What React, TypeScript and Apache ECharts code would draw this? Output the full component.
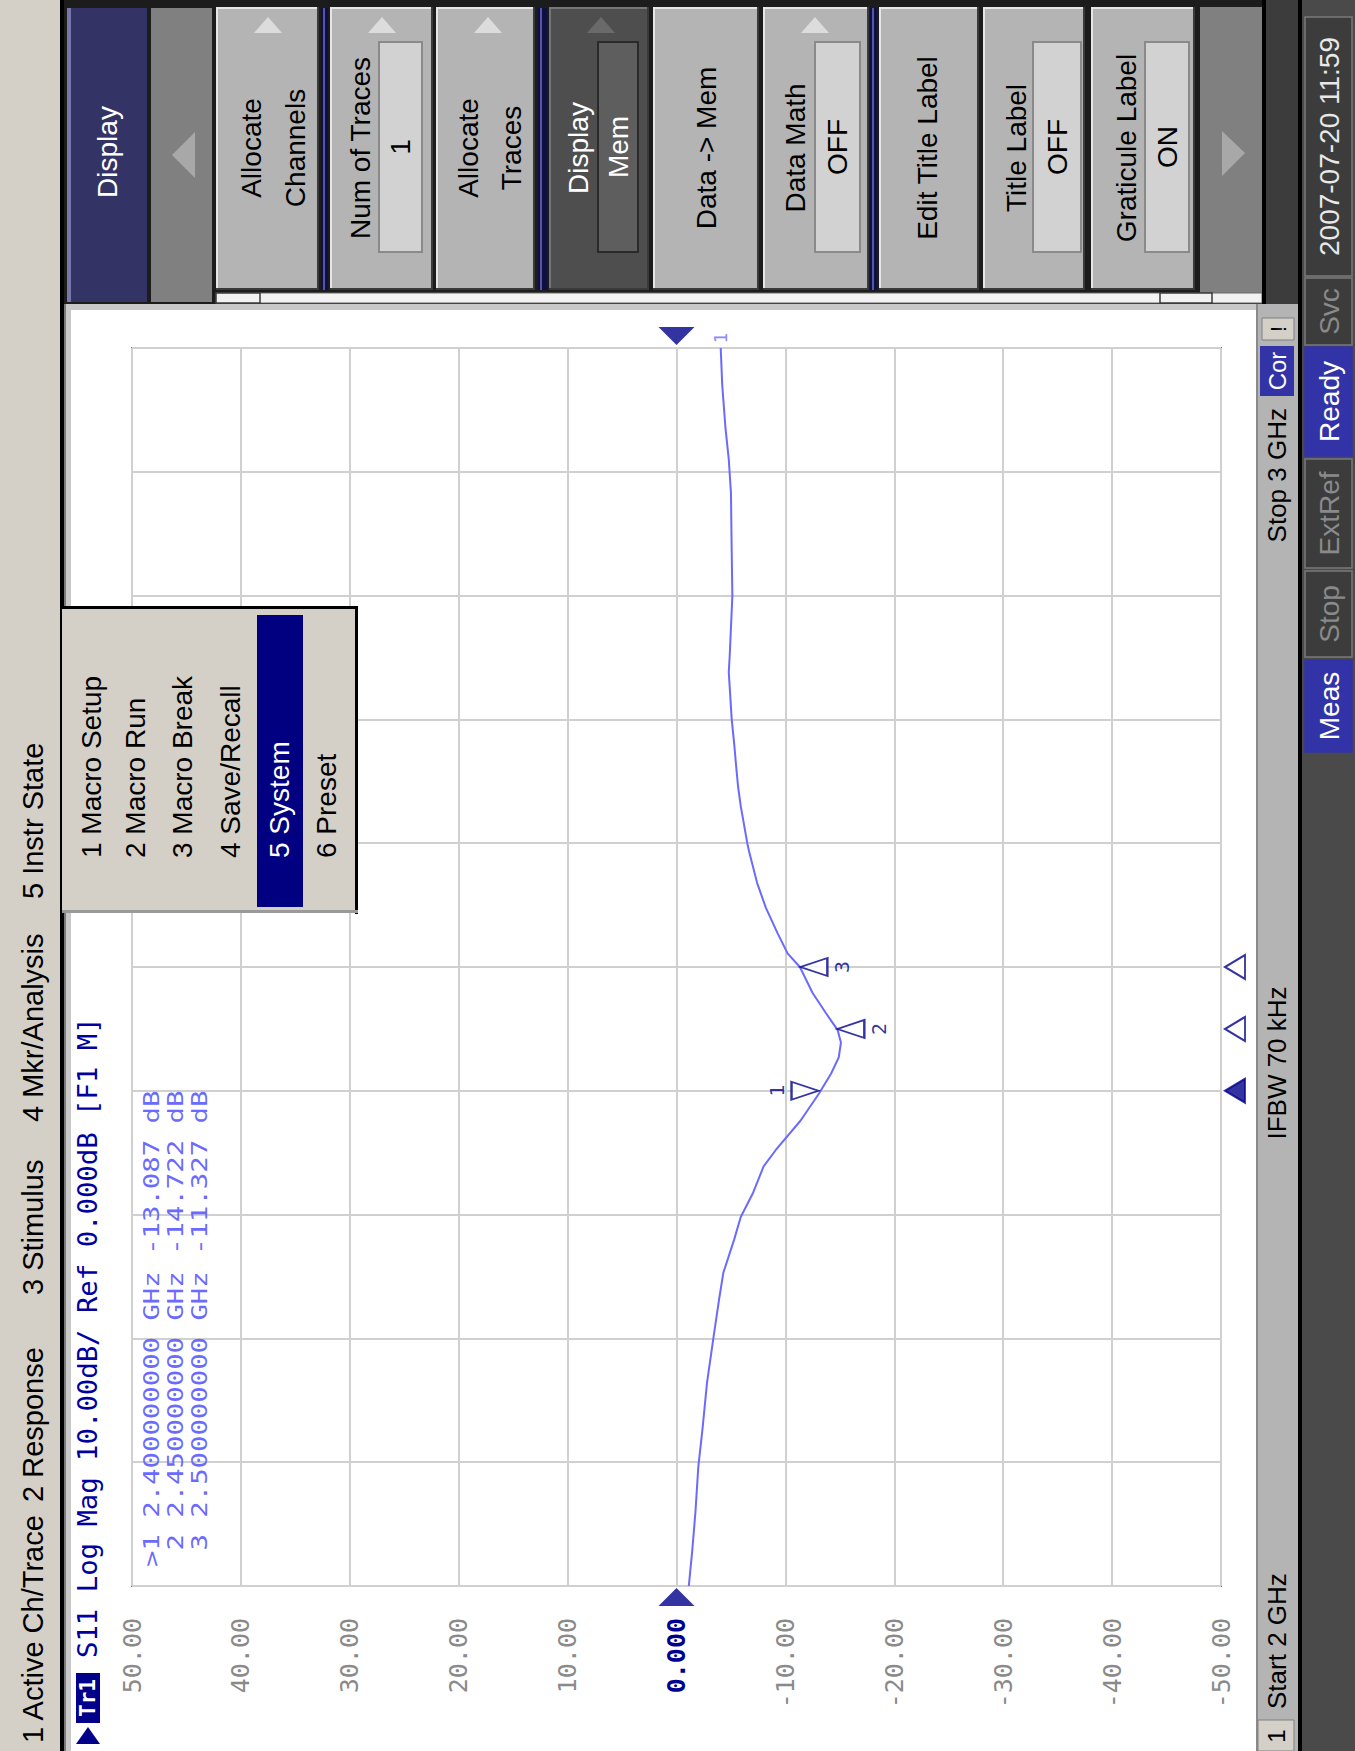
import React, { useEffect, useRef } from "react";
import * as echarts from "echarts";

// ---------- data ----------
const traceFreqGHz = [2.000, 2.029, 2.061, 2.096, 2.128, 2.164, 2.201, 2.231, 2.253, 2.280, 2.298, 2.317, 2.339, 2.352, 2.376, 2.398, 2.414, 2.427, 2.439, 2.449, 2.463, 2.479, 2.500, 2.511, 2.527, 2.548, 2.568, 2.592, 2.600, 2.630, 2.646, 2.660, 2.680, 2.700, 2.738, 2.754, 2.800, 2.835, 2.883, 2.910, 2.935, 2.970, 3.000];
const traceDb = [-1.13, -1.45, -1.75, -2.0, -2.4, -2.8, -3.4, -3.9, -4.3, -5.3, -5.9, -7.0, -8.0, -9.1, -11.4, -13.1, -14.2, -14.9, -15.1, -14.8, -13.7, -12.5, -11.33, -10.2, -9.3, -8.2, -7.4, -6.7, -6.5, -5.9, -5.65, -5.5, -5.3, -5.07, -4.8, -4.9, -5.13, -5.07, -5.0, -4.8, -4.5, -4.2, -4.06];

const markerIds = ["1", "2", "3"];
const markerFreqGHz = [2.4, 2.45, 2.5];
const markerDb = [-13.087, -14.722, -11.327];
const markerSide = [-1, 1, 1]; // -1: symbol left of trace, 1: right

const dbTicks = [50, 40, 30, 20, 10, 0, -10, -20, -30, -40, -50];
const dbTickLabels = ["50.00", "40.00", "30.00", "20.00", "10.00", "0.000", "-10.00", "-20.00", "-30.00", "-40.00", "-50.00"];

const menuItems = ["1 Active Ch/Trace", "2 Response", "3 Stimulus", "4 Mkr/Analysis", "5 Instr State"];
const popupItems = ["1 Macro Setup", "2 Macro Run", "3 Macro Break", "4 Save/Recall", "5 System", "6 Preset"];
const statusItems = ["2007-07-20 11:59", "Svc", "Ready", "ExtRef", "Stop", "Meas"];
const headerText = "S11 Log Mag 10.00dB/ Ref 0.000dB [F1 M]";
const startLabel = "Start 2 GHz";
const stopLabel = "Stop 3 GHz";
const ifbwLabel = "IFBW 70 kHz";

// ---------- styling helpers ----------
const SANS = '"Liberation Sans", Arial, sans-serif';
const MONO = '"DejaVu Sans Mono", monospace';
const Z = 100;

function R(x: number, y: number, w: number, h: number, fill: string, extra: any = {}) {
  return { type: "rect", z: Z, shape: { x, y, width: w, height: h }, style: { fill, ...(extra.style || {}) }, ...extra.el };
}
function P(points: number[][], fill: string, stroke?: string) {
  return { type: "polygon", z: Z + 1, shape: { points }, style: stroke ? { fill, stroke, lineWidth: 2 } : { fill } };
}
function VT(text: string, x: number, y: number, o: any = {}) {
  const align = o.align || "left";
  return {
    type: "text",
    z: Z + 2,
    x,
    y,
    rotation: Math.PI / 2,
    scaleX: o.sx || 1,
    style: {
      text,
      fill: o.color || "#000",
      font: `${o.weight || "normal"} ${o.size || 28}px ${o.family || SANS}`,
      textAlign: align,
      textVerticalAlign: "middle",
      align,
      verticalAlign: "middle",
    },
  };
}

function buildGraphics() {
  const g: any[] = [];
  // left menu bar
  g.push(R(0, 0, 62, 1751, "#d4d0c8"));
  g.push(R(60, 0, 4, 1751, "#000000"));
  const menuStarts = [1743, 1502, 1295, 1122, 899];
  menuItems.forEach((t, i) => g.push(VT(t, 33, menuStarts[i], { size: 29 })));

  // white window bevel
  g.push(R(64, 304, 7, 1447, "#c8c8c8"));
  g.push(R(64, 304, 1192, 6, "#c8c8c8"));
  g.push(R(64, 304, 2, 1447, "#7a7a7a"));

  // softkey panel
  g.push(R(64, 0, 1238, 304, "#1c1c1c"));
  // title
  g.push(R(67, 8, 80, 294, "#333366"));
  g.push(R(67, 8, 4, 294, "#7777aa"));
  g.push(VT("Display", 107, 152, { align: "center", color: "#ffffff", size: 28 }));
  // left scroll
  g.push(R(151, 8, 61, 294, "#808080"));
  g.push(P([[172, 155], [195, 132], [195, 178]], "#a8a8a8"));

  const softkeys = [
    { lines: ["Allocate", "Channels"], x0: 216, x1: 319, tx: [251, 295], arrow: true },
    { lines: ["Num of Traces"], value: "1", x0: 330, x1: 433, tx: [360], box: [379, 422], arrow: true },
    { lines: ["Allocate", "Traces"], x0: 436, x1: 535, tx: [468, 511], arrow: true },
    { lines: ["Display"], value: "Mem", x0: 549, x1: 649, tx: [578], box: [598, 638], arrow: true, dark: true },
    { lines: ["Data -> Mem"], x0: 653, x1: 759, tx: [706] },
    { lines: ["Data Math"], value: "OFF", x0: 763, x1: 869, tx: [795], box: [815, 860], arrow: true },
    { lines: ["Edit Title Label"], x0: 879, x1: 979, tx: [927] },
    { lines: ["Title Label"], value: "OFF", x0: 983, x1: 1085, tx: [1016], box: [1033, 1081] },
    { lines: ["Graticule Label"], value: "ON", x0: 1091, x1: 1195, tx: [1126], box: [1145, 1189] },
  ];
  // group separators (navy)
  [[321, 328], [538, 547], [870, 877]].forEach(([a, b]) => {
    g.push(R(a, 8, b - a, 282, "#101040"));
    g.push(R(a + 2, 8, 2, 282, "#5555aa"));
  });
  softkeys.forEach((k: any) => {
    const w = k.x1 - k.x0;
    const base = k.dark ? "#4e4e4e" : "#b4b4b4";
    const txt = k.dark ? "#ffffff" : "#000000";
    g.push(R(k.x0, 7, w, 283, base));
    g.push(R(k.x0, 7, 2, 283, k.dark ? "#777777" : "#e6e6e6"));
    g.push(R(k.x0, 7, w, 2, k.dark ? "#777777" : "#e6e6e6"));
    g.push(R(k.x1 - 2, 7, 2, 283, "#3a3a3a"));
    g.push(R(k.x0, 288, w, 2, "#3a3a3a"));
    if (k.arrow) {
      const cx = k.x0 + 52;
      g.push(P([[cx, 17], [cx - 14, 33], [cx + 14, 33]], k.dark ? "#6a6a6a" : "#dcdcdc"));
    }
    k.lines.forEach((t: string, i: number) => g.push(VT(t, k.tx[i], 148, { align: "center", color: txt, size: 28 })));
    if (k.box) {
      g.push(R(k.box[0], 42, k.box[1] - k.box[0], 210, k.dark ? "#5e5e5e" : "#d2d2d2", {
        style: { stroke: k.dark ? "#2a2a2a" : "#8a8a8a", lineWidth: 2 },
      }));
      g.push(VT(k.value, (k.box[0] + k.box[1]) / 2, 147, { align: "center", color: txt, size: 28 }));
    }
  });
  // right scroll
  g.push(R(1200, 7, 62, 294, "#808080"));
  g.push(P([[1245, 153], [1222, 131], [1222, 176]], "#a8a8a8"));
  // scrollbar strip below softkeys
  g.push(R(216, 293, 1046, 10, "#f2f2f2", { style: { stroke: "#6a6a6a", lineWidth: 1 } }));
  g.push(R(216, 293, 44, 10, "#f2f2f2", { style: { stroke: "#3a3a3a", lineWidth: 1.5 } }));
  g.push(R(1160, 293, 52, 10, "#f2f2f2", { style: { stroke: "#3a3a3a", lineWidth: 1.5 } }));
  // dark column right of softkeys
  g.push(R(1262, 0, 40, 304, "#3c3c3c"));
  g.push(R(1262, 0, 4, 304, "#000000"));

  // channel status bar
  g.push(R(1256, 304, 44, 1447, "#b4b4b4"));
  g.push(R(1256, 304, 2, 1447, "#8a8a8a"));
  g.push(R(1262, 318, 32, 22, "#d4d0c8", { style: { stroke: "#808080", lineWidth: 1 } }));
  g.push(VT("!", 1278, 329, { align: "center", size: 22 }));
  g.push(R(1260, 346, 34, 50, "#3333a8"));
  g.push(VT("Cor", 1277, 371, { align: "center", color: "#ffffff", size: 24 }));
  g.push(VT(stopLabel, 1277, 408, { align: "right", size: 26 }));
  g.push(VT(ifbwLabel, 1277, 1063, { align: "center", size: 26 }));
  g.push(VT(startLabel, 1277, 1709, { align: "left", size: 26 }));
  g.push(R(1258, 1720, 36, 31, "#d4d0c8", { style: { stroke: "#808080", lineWidth: 1 } }));
  g.push(VT("1", 1276, 1736, { align: "center", size: 24 }));

  // instrument status bar
  g.push(R(1298, 0, 4, 1751, "#000000"));
  g.push(R(1302, 0, 53, 1751, "#4a4a4a"));
  const sy = [[17, 276], [278, 345], [347, 456], [459, 568], [571, 657], [660, 752]];
  const sKind = ["date", "off", "on", "off", "off", "on"];
  statusItems.forEach((t, i) => {
    const [a, b] = sy[i];
    const kind = sKind[i];
    const fill = kind === "on" ? "#3333a8" : "#3c3c3c";
    g.push(R(1305, a, 47, b - a, fill, { style: { stroke: kind === "on" ? "#3333a8" : "#7a7a7a", lineWidth: 1.5 } }));
    const col = kind === "off" ? "#8a8a8a" : kind === "on" ? "#ffffff" : "#e8e8e8";
    g.push(VT(t, 1329, (a + b) / 2, { align: "center", color: col, size: 28 }));
  });

  // header in chart window
  g.push(P([[88, 1727], [76, 1744], [100, 1744]], "#00008b"));
  g.push(R(76, 1673, 24, 50, "#00008b"));
  g.push(VT("Tr1", 88, 1698, { align: "center", color: "#ffffff", size: 21, family: MONO, weight: "bold" }));
  g.push(VT(headerText, 88, 1658, { size: 26, family: MONO, color: "#0000a0", sx: 1.05 }));

  // marker table
  const tableX = [152, 176, 200];
  markerIds.forEach((id, i) => {
    const line = `${i === 0 ? ">" : " "}${id} ${markerFreqGHz[i].toFixed(9)} GHz ${markerDb[i].toFixed(3)} dB`;
    g.push(VT(line, tableX[i], 1567, { size: 21, family: MONO, color: "#6a6aff", sx: 1.3 }));
  });

  // popup menu
  g.push(R(62, 607, 296, 306, "#d4d0c8"));
  g.push(R(62, 606, 296, 3, "#000000"));
  g.push(R(355, 606, 3, 308, "#000000"));
  g.push(R(62, 910, 296, 3, "#9a9a9a"));
  g.push(R(257, 615, 46, 292, "#000080"));
  const popX = [91, 135, 182, 230, 279, 326];
  popupItems.forEach((t, i) =>
    g.push(VT(t, popX[i], 858, { size: 28, color: i === 4 ? "#ffffff" : "#000000" }))
  );
  return g;
}

function buildOption() {
  const trace = traceFreqGHz.map((f, i) => [traceDb[i], f]);
  const markerSymbols = markerIds.map((id, i) => ({
    value: [markerDb[i], markerFreqGHz[i]],
    symbolRotate: markerSide[i] > 0 ? 90 : -90,
    symbolOffset: [14 * markerSide[i], 0],
  }));
  // label offset is in the rotated (text) frame: local +y maps to screen +x
  const markerLabels = markerIds.map((id, i) => ({
    value: [markerDb[i], markerFreqGHz[i]],
    name: id,
    label: { offset: [0, 42 * markerSide[i]] },
  }));
  const edgeMarkers = markerIds.map((id, i) => ({
    value: [-50, markerFreqGHz[i]],
    itemStyle: i === 0 ? { color: "#00008b", borderColor: "#00008b" } : { color: "#ffffff", borderColor: "#00008b" },
  }));
  return {
    animation: false,
    backgroundColor: "#ffffff",
    grid: { left: 132, right: 134, top: 348, bottom: 165, show: true, borderColor: "#7a7a7a", borderWidth: 2, backgroundColor: "transparent" },
    xAxis: {
      type: "value",
      min: -50,
      max: 50,
      interval: 10,
      inverse: true,
      position: "bottom",
      axisLine: { show: false },
      axisTick: { show: false },
      splitLine: { show: true, lineStyle: { color: "#d0d0d0", width: 2 } },
      axisLabel: {
        show: true,
        rotate: 90,
        margin: 32,
        fontFamily: MONO,
        fontSize: 25,
        color: "#8a8a8a",
        formatter: (v: number) => {
          const idx = dbTicks.indexOf(Math.round(v));
          const t = idx >= 0 ? dbTickLabels[idx] : String(v);
          return Math.round(v) === 0 ? `{z|${t}}` : t;
        },
        rich: { z: { color: "#000090", fontWeight: "bold", fontFamily: MONO, fontSize: 25 } },
      },
    },
    yAxis: {
      type: "value",
      min: 2,
      max: 3,
      interval: 0.1,
      axisLine: { show: false },
      axisTick: { show: false },
      axisLabel: { show: false },
      splitLine: { show: true, lineStyle: { color: "#d0d0d0", width: 2 } },
    },
    series: [
      {
        type: "line",
        data: trace,
        showSymbol: false,
        symbol: "none",
        lineStyle: { color: "#6a6aff", width: 2 },
        z: 3,
      },
      {
        type: "scatter",
        data: markerSymbols,
        symbol: "triangle",
        symbolSize: [18, 27],
        itemStyle: { color: "#ffffff", borderColor: "#00008b", borderWidth: 2 },
        z: 5,
        clip: false,
      },
      {
        type: "scatter",
        data: markerLabels,
        symbolSize: 1,
        itemStyle: { color: "rgba(0,0,0,0)" },
        label: {
          show: true,
          position: "inside",
          formatter: (p: any) => p.name,
          rotate: 90,
          color: "#00008b",
          fontFamily: MONO,
          fontSize: 20,
        },
        z: 6,
        clip: false,
      },
      {
        type: "scatter",
        data: edgeMarkers,
        symbol: "triangle",
        symbolSize: [24, 20],
        symbolRotate: 90,
        symbolOffset: [14, 0],
        itemStyle: { borderWidth: 2 },
        z: 5,
        clip: false,
      },
      {
        type: "scatter",
        data: [
          { value: [0, 3], symbolRotate: 180, symbolOffset: [0, -12] },
          { value: [0, 2], symbolRotate: 0, symbolOffset: [0, 11] },
        ],
        symbol: "triangle",
        symbolSize: [36, 18],
        itemStyle: { color: "#00008b" },
        z: 5,
        clip: false,
      },
      {
        type: "scatter",
        data: [{ value: [traceDb[traceDb.length - 1], traceFreqGHz[traceFreqGHz.length - 1]], name: "1" }],
        symbolSize: 1,
        itemStyle: { color: "rgba(0,0,0,0)" },
        label: {
          show: true,
          position: "inside",
          offset: [10, 0],
          formatter: (p: any) => p.name,
          rotate: 90,
          color: "#6a6aff",
          fontFamily: MONO,
          fontSize: 18,
        },
        z: 6,
        clip: false,
      },
    ],
    graphic: { elements: buildGraphics() },
  };
}

export default function App() {
  const ref = useRef<HTMLDivElement>(null);
  useEffect(() => {
    if (!ref.current) return;
    const chart = echarts.init(ref.current, null, { renderer: "svg" });
    chart.setOption(buildOption() as any);
    return () => chart.dispose();
  }, []);
  return <div ref={ref} style={{ position: "absolute", left: 0, top: 0, width: 1355, height: 1751 }} />;
}
